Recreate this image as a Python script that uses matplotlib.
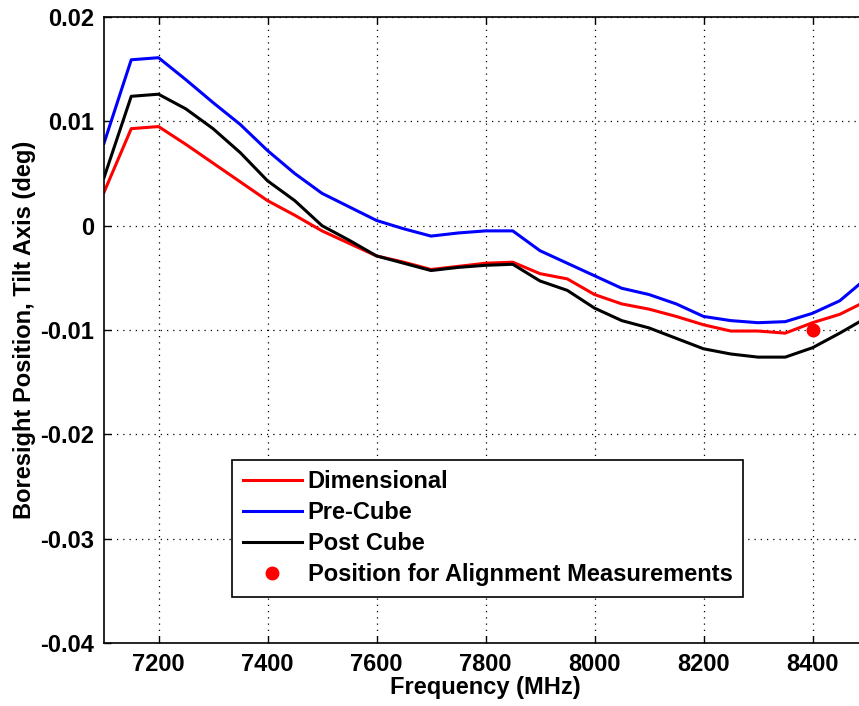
import numpy as np
import matplotlib
matplotlib.use('Agg')
import matplotlib.pyplot as plt

# 频率点 (MHz)
freq = [7100, 7150, 7200, 7250, 7300, 7350, 7400, 7450, 7500, 7550, 7600, 7650,
        7700, 7750, 7800, 7850, 7900, 7950, 8000, 8050, 8100, 8150, 8200, 8250,
        8300, 8350, 8400, 8450, 8500]

dimensional = [0.0032, 0.0093, 0.0095, 0.0078, 0.0060, 0.0042, 0.0024, 0.0010, -0.0005,
               -0.0017, -0.0029, -0.0035, -0.0042, -0.0039, -0.0036, -0.0035, -0.0046,
               -0.0051, -0.0066, -0.0075, -0.0080, -0.0087, -0.0095, -0.0101, -0.0101,
               -0.0103, -0.0093, -0.0085, -0.0072]

pre_cube = [0.0079, 0.0159, 0.0161, 0.0140, 0.0118, 0.0097, 0.0072, 0.0050, 0.0031,
            0.0018, 0.0005, -0.0003, -0.0010, -0.0007, -0.0005, -0.0005, -0.0024,
            -0.0036, -0.0048, -0.0060, -0.0066, -0.0075, -0.0087, -0.0091, -0.0093,
            -0.0092, -0.0084, -0.0072, -0.0050]

post_cube = [0.0046, 0.0124, 0.0126, 0.0112, 0.0093, 0.0070, 0.0043, 0.0024, 0.0000,
             -0.0014, -0.0029, -0.0036, -0.0043, -0.0040, -0.0038, -0.0037, -0.0053,
             -0.0062, -0.0079, -0.0091, -0.0098, -0.0108, -0.0118, -0.0123, -0.0126,
             -0.0126, -0.0117, -0.0103, -0.0088]

align_freq = [8400]
align_pos = [-0.0100]

xticks = [7200, 7400, 7600, 7800, 8000, 8200, 8400]
yticks = [0.02, 0.01, 0, -0.01, -0.02, -0.03, -0.04]

plt.rcParams['font.family'] = ['Liberation Sans', 'DejaVu Sans']
plt.rcParams['font.weight'] = 'bold'
fs = 17

fig = plt.figure(figsize=(8.59, 7.06), dpi=100)
ax = fig.add_axes([104 / 859, 1 - 643 / 706, (867 - 104) / 859, (643 - 17) / 706])

ax.plot(freq, dimensional, color='#ff0000', lw=2.2, label='Dimensional')
ax.plot(freq, pre_cube, color='#0000ff', lw=2.2, label='Pre-Cube')
ax.plot(freq, post_cube, color='black', lw=2.2, label='Post Cube')
ax.plot(align_freq, align_pos, 'o', color='#ff0000', ms=9, ls='none',
        label='Position for Alignment Measurements')

ax.set_xlim(7100, 8500)
ax.set_ylim(-0.04, 0.02)
ax.set_xticks(xticks)
ax.set_yticks(yticks)
ax.set_yticklabels(['0.02', '0.01', '0', '-0.01', '-0.02', '-0.03', '-0.04'])
ax.tick_params(direction='in', top=True, right=True, length=5, width=1,
               labelsize=fs, pad=7)
for s in ax.spines.values():
    s.set_linewidth(1.2)

ax.grid(True, color='black', linestyle=(0, (1, 4)), linewidth=0.9)

ax.set_xlabel('Frequency (MHz)', fontsize=fs, fontweight='bold', labelpad=0)
ax.set_ylabel('Boresight Position, Tilt Axis (deg)', fontsize=fs, fontweight='bold',
              labelpad=3)

leg = ax.legend(loc='lower left', bbox_to_anchor=(232 / 859, 1 - 597 / 706),
                bbox_transform=fig.transFigure, borderaxespad=0, fancybox=False,
                framealpha=1, edgecolor='black', fontsize=fs, handlelength=2.5,
                handletextpad=0.25, labelspacing=0.34, borderpad=0.45)
leg.get_frame().set_linewidth(1.2)

fig.savefig('out.png', dpi=100)
